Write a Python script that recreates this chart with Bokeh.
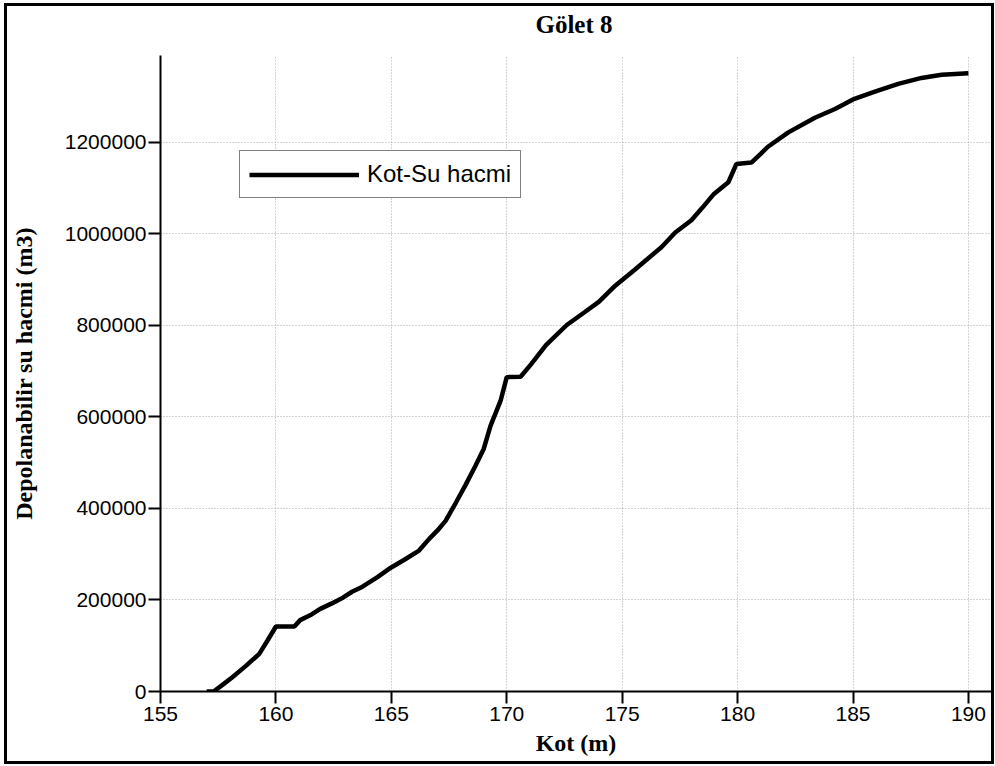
from bokeh.plotting import figure
from bokeh.layouts import column
from bokeh.models import Range1d, FixedTicker, NumeralTickFormatter, Legend, LegendItem, Div
from bokeh.embed import file_html
from bokeh.resources import INLINE

# Kot (m)
kot = [157.0, 157.3, 157.7, 158.1, 158.7, 159.27, 159.63, 160.0, 160.8, 161.05,
       161.5, 161.9, 162.4, 162.9, 163.3, 163.75, 164.4, 164.96, 165.6, 166.2,
       166.63, 167.0, 167.35, 167.8, 168.2, 168.64, 169.0, 169.3, 169.73, 170.0,
       170.6, 171.05, 171.7, 172.6, 173.4, 174.0, 174.7, 175.57, 176.7, 177.3,
       178.0, 178.45, 178.95, 179.6, 179.95, 180.6, 181.0, 181.3, 182.2, 183.35,
       184.22, 185.0, 185.95, 186.96, 187.97, 188.84, 190.0]
# Depolanabilir su hacmi (m3)
hacim = [0, 0, 15000, 30600, 56000, 81800, 110900, 142000, 142000, 156000,
         167000, 180000, 192000, 205000, 218000, 229000, 250000, 270000, 289000, 308000,
         333000, 352000, 373000, 413000, 450000, 493000, 530000, 581000, 635000, 687000,
         688000, 715000, 757000, 801000, 830000, 852000, 887000, 923000, 971000, 1003000,
         1030000, 1056000, 1086000, 1113000, 1153000, 1156000, 1175000, 1190000, 1222000, 1254000,
         1273000, 1294000, 1311000, 1328000, 1341000, 1348000, 1351000]

x_ticks = [155, 160, 165, 170, 175, 180, 185, 190]
y_ticks = [0, 200000, 400000, 600000, 800000, 1000000, 1200000]
title_text = "Gölet 8"

p = figure(width=984, height=706, output_backend="svg", toolbar_location=None,
           x_range=Range1d(155, 191), y_range=Range1d(0, 1390000),
           min_border_left=151, min_border_right=0, min_border_top=0, min_border_bottom=70)
p.outline_line_color = None
p.background_fill_color = "white"
p.border_fill_color = "white"
p.title.text = ""
p.title.standoff = 0
p.title.visible = False

for ax in (p.xaxis[0], p.yaxis[0]):
    ax.axis_line_color = "black"
    ax.axis_line_width = 2
    ax.major_tick_line_color = "black"
    ax.major_tick_line_width = 2
    ax.major_tick_out = 12
    ax.major_tick_in = 0
    ax.minor_tick_line_color = None
    ax.major_label_text_font = "Liberation Sans"
    ax.major_label_text_font_size = "21px"
    ax.major_label_text_color = "black"
    ax.axis_label_text_font = "Liberation Serif"
    ax.axis_label_text_font_style = "bold"
    ax.axis_label_text_font_size = "24px"
    ax.axis_label_text_color = "black"

p.xaxis.ticker = FixedTicker(ticks=x_ticks)
p.yaxis.ticker = FixedTicker(ticks=y_ticks)
p.yaxis.formatter = NumeralTickFormatter(format="0")
p.xaxis.axis_label = "Kot (m)"
p.yaxis.axis_label = "Depolanabilir su hacmi (m3)"
p.xaxis.major_label_standoff = 3
p.yaxis.major_label_standoff = 2
p.xaxis.axis_label_standoff = 6
p.yaxis.axis_label_standoff = 25

for g in (p.xgrid[0], p.ygrid[0]):
    g.grid_line_color = "#a8a8a8"
    g.grid_line_dash = "1 2"
    g.grid_line_width = 1

r = p.line(kot, hacim, line_color="black", line_width=4.5)

legend = Legend(items=[LegendItem(label="Kot-Su hacmi", renderers=[r])],
                location=(79, 493), orientation="vertical")
legend.border_line_color = "black"
legend.border_line_width = 1
legend.background_fill_color = "white"
legend.background_fill_alpha = 1
legend.label_text_font = "Liberation Sans"
legend.label_text_font_size = "24px"
legend.label_text_color = "black"
legend.glyph_width = 110
legend.glyph_height = 27
legend.label_height = 27
legend.label_standoff = 8
legend.padding = 9
legend.margin = 0
legend.spacing = 0
p.add_layout(legend)

title_div = Div(
    text=('<div style="margin-left:151px;width:832px;text-align:center;'
          "font-family:'Liberation Serif';font-weight:bold;font-size:25px;"
          'line-height:29px;padding-top:4px;color:black;">' + title_text + '</div>'),
    width=984, height=49, margin=0)

layout = column(title_div, p, spacing=0)
layout.margin = (3, 0, 0, 4)
layout.styles = {"border": "3px solid black", "background-color": "white"}

open("out.html", "w").write(file_html(layout, INLINE))
